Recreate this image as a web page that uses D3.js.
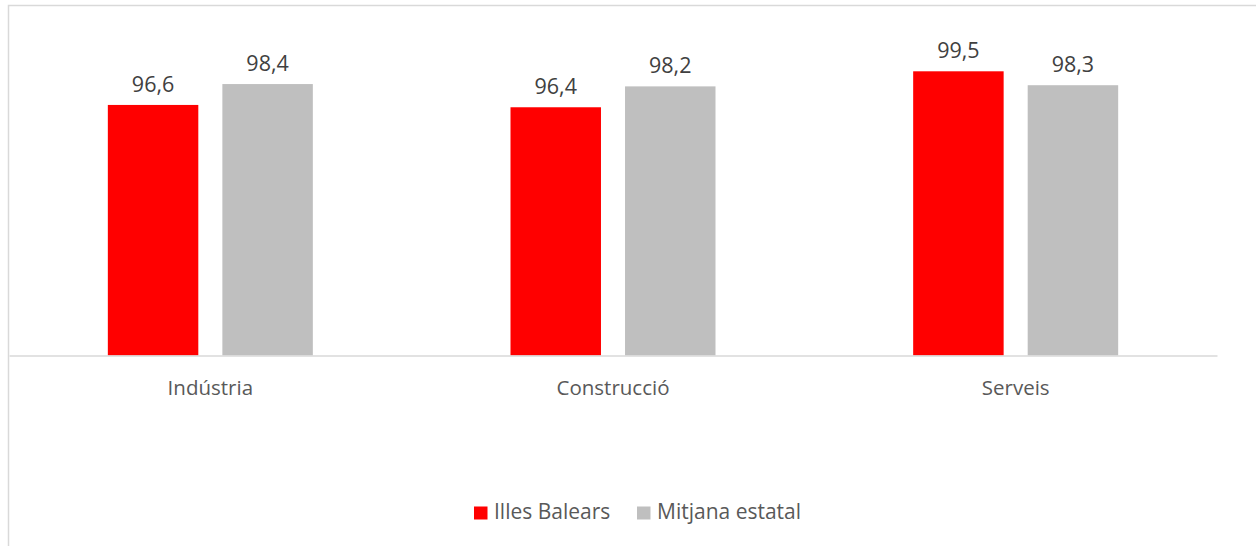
<!DOCTYPE html>
<html>
<head>
<meta charset="utf-8">
<script src="https://cdn.jsdelivr.net/npm/d3@7"></script>
<style>
  body { margin: 0; background: #fff; }
  svg { display: block; font-family: "Open Sans", sans-serif; }
</style>
</head>
<body>
<script>
// data
const categories = ['Indústria', 'Construcció', 'Serveis'];
const seriesNames = ['Illes Balears', 'Mitjana estatal'];
const balears = [96.6, 96.4, 99.5];
const estatal = [98.4, 98.2, 98.3];
const seriesColors = ['#ff0000', '#bfbfbf'];

const draw = () => {
    const width = 1256,
        height = 546;

    const svg = d3.select('body')
        .append('svg')
        .attr('width', width)
        .attr('height', height);

    // chart border (runs off the right and bottom edge)
    svg.append('rect')
        .attr('x', 8.5).attr('y', 5.5)
        .attr('width', width + 20).attr('height', height + 20)
        .attr('fill', 'none')
        .attr('stroke', '#d9d9d9')
        .attr('stroke-width', 1.5);

    const plot = {left: 9, right: 1217, top: 65.5, bottom: 355.5};

    const x0 = d3.scaleBand()
        .domain(categories)
        .range([plot.left, plot.right])
        .padding(0);

    const groupWidth = 205;
    const x1 = d3.scaleBand()
        .domain(seriesNames)
        .range([0, groupWidth])
        .paddingInner(0.21)
        .paddingOuter(0);

    const y = d3.scaleLinear()
        .domain([75, 100])
        .range([plot.bottom, plot.top]);

    const rows = categories.map((c, i) => ({
        cat: c,
        vals: [
            {name: seriesNames[0], v: balears[i], color: seriesColors[0]},
            {name: seriesNames[1], v: estatal[i], color: seriesColors[1]}
        ]
    }));

    const groups = svg.append('g')
        .selectAll('g')
        .data(rows)
        .enter()
        .append('g')
        .attr('transform', d => `translate(${x0(d.cat) + (x0.bandwidth() - groupWidth) / 2},0)`);

    groups.selectAll('rect')
        .data(d => d.vals)
        .enter()
        .append('rect')
        .attr('x', d => x1(d.name))
        .attr('y', d => y(d.v))
        .attr('width', x1.bandwidth())
        .attr('height', d => y(75) - y(d.v))
        .attr('fill', d => d.color);

    const fmt = v => d3.format('.1f')(v).replace('.', ',');

    groups.selectAll('text')
        .data(d => d.vals)
        .enter()
        .append('text')
        .attr('x', d => x1(d.name) + x1.bandwidth() / 2)
        .attr('y', d => y(d.v) - 13)
        .attr('text-anchor', 'middle')
        .attr('font-size', 21.5)
        .attr('fill', '#404040')
        .text(d => fmt(d.v));

    // baseline axis
    const axis = svg.append('g')
        .attr('transform', `translate(0,${plot.bottom})`)
        .call(d3.axisBottom(x0).tickSize(0).tickPadding(0));
    axis.select('.domain')
        .attr('stroke', '#d9d9d9')
        .attr('stroke-width', 1.5);
    axis.selectAll('text')
        .attr('dy', 0)
        .attr('y', 39)
        .attr('font-size', 20.5)
        .attr('font-family', '"Open Sans", sans-serif')
        .attr('fill', '#595959');

    // legend
    const legendX = [474, 637];
    const legend = svg.append('g')
        .selectAll('g')
        .data(seriesNames)
        .enter()
        .append('g')
        .attr('transform', (d, i) => `translate(${legendX[i]},506.5)`);
    legend.append('rect')
        .attr('width', 13.5).attr('height', 13)
        .attr('fill', (d, i) => seriesColors[i]);
    legend.append('text')
        .attr('x', 20)
        .attr('y', 12.5)
        .attr('font-size', 21)
        .attr('fill', '#595959')
        .text(d => d);
};

draw();
</script>
</body>
</html>
